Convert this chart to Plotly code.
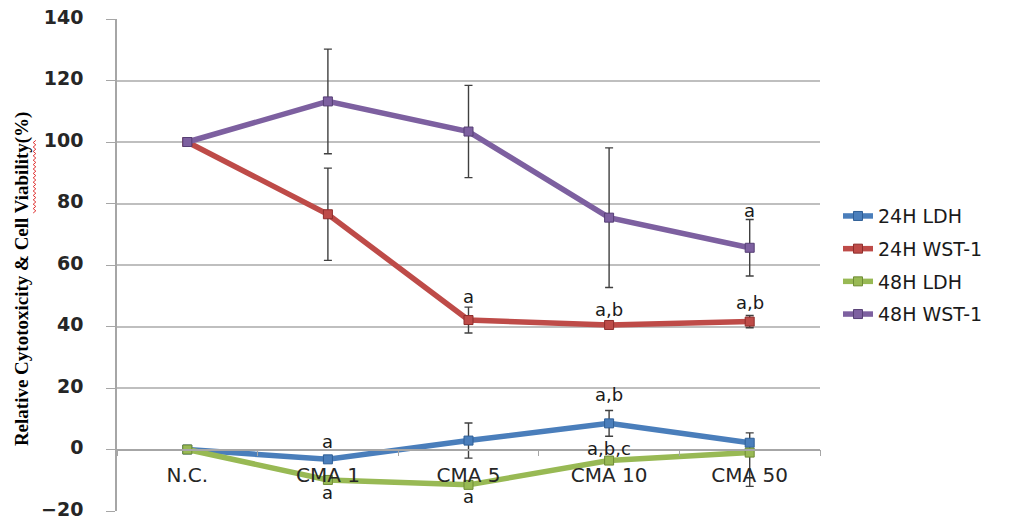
import plotly.graph_objects as go

# Treatment groups along the category axis
categories = ["N.C.", "CMA 1", "CMA 5", "CMA 10", "CMA 50"]

# Mean values (%) per series
ldh_24h = [0, -3.2, 2.9, 8.5, 2.2]
wst_24h = [100, 76.5, 42.1, 40.5, 41.6]
ldh_48h = [0, -9.9, -11.5, -3.6, -1.0]
wst_48h = [100, 113.2, 103.4, 75.4, 65.6]

# Error bar half-widths (%)
ldh_24h_err = [0, 1.0, 5.7, 4.2, 3.2]
wst_24h_err = [0, 15.0, 4.2, 1.0, 2.0]
ldh_48h_err_plus = [0, 0, 0, 0, 0]
ldh_48h_err_minus = [0, 0, 0, 0, 11.0]
wst_48h_err = [0, 17.0, 15.0, 22.7, 9.2]

# Significance letters: (series name, category index, text)
sig_labels = [
    ("24H LDH", 1, "a"),
    ("24H LDH", 3, "a,b"),
    ("48H LDH", 1, "a"),
    ("48H LDH", 2, "a"),
    ("48H LDH", 3, "a,b,c"),
    ("24H WST-1", 2, "a"),
    ("24H WST-1", 3, "a,b"),
    ("24H WST-1", 4, "a,b"),
    ("48H WST-1", 4, "a"),
]
# pixel offset of each letter from its point
sig_shift = [18, 29, -13, -12, 12, 24, 15, 19, 37]

series = [
    ("24H LDH", ldh_24h, dict(type="data", array=ldh_24h_err), "#4A7EBB", "#2F5F96"),
    ("24H WST-1", wst_24h, dict(type="data", array=wst_24h_err), "#BE4B48", "#8E2E2C"),
    ("48H LDH", ldh_48h, dict(type="data", symmetric=False, array=ldh_48h_err_plus,
                              arrayminus=ldh_48h_err_minus), "#98B954", "#6F8C35"),
    ("48H WST-1", wst_48h, dict(type="data", array=wst_48h_err), "#7D60A0", "#563F75"),
]

fig = go.Figure()
values_by_name = {}
for name, vals, err, color, edge in series:
    values_by_name[name] = vals
    err = dict(err, color="#404040", thickness=1.4, width=4)
    fig.add_trace(go.Scatter(
        x=categories, y=vals, name=name, legendgroup=name, mode="lines+markers",
        line=dict(color=color, width=5.5),
        marker=dict(symbol="square", size=9, color=color, line=dict(color=edge, width=1)),
        error_y=err,
    ))

for (name, idx, text), shift in zip(sig_labels, sig_shift):
    fig.add_annotation(
        x=categories[idx], y=values_by_name[name][idx], text=text,
        showarrow=False, yshift=shift, yanchor="middle",
        font=dict(family="DejaVu Sans", size=18, color="#1A1A1A"),
    )

# Rotated y-axis title, placed left of the tick labels
fig.add_annotation(
    x=-0.135, y=0.4715, xref="paper", yref="paper",
    text="<b>Relative Cytotoxicity &amp; Cell Viability(%)</b>",
    textangle=-90, showarrow=False, xanchor="center", yanchor="middle",
    font=dict(family="Liberation Serif", size=19, color="#000000"),
)

# Red wavy proofing underline beside "Viability" in the rotated title
PLOT_L, PLOT_W, PLOT_B, PLOT_H = 117, 703, 511, 492
wave_x, wave_top, wave_bot = 34.5, 140, 213
pts = []
py = wave_bot
k = 0
while py >= wave_top:
    px = wave_x + (1.3 if k % 2 else -1.3)
    pts.append(((px - PLOT_L) / PLOT_W, (PLOT_B - py) / PLOT_H))
    py -= 2.2
    k += 1
wave_path = "M " + " L ".join(f"{a:.5f},{b:.5f}" for a, b in pts)
fig.add_shape(type="path", path=wave_path, xref="paper", yref="paper",
              line=dict(color="#E03030", width=1))

fig.update_layout(
    width=1010, height=517,
    margin=dict(l=117, r=190, t=19, b=6, autoexpand=False),
    plot_bgcolor="white", paper_bgcolor="white",
    showlegend=True,
    legend=dict(
        x=1.0256, y=0.638, xanchor="left", yanchor="top",
        font=dict(family="DejaVu Sans", size=19, color="#1A1A1A"),
        tracegroupgap=5, itemwidth=30, bgcolor="rgba(0,0,0,0)",
    ),
    xaxis=dict(
        type="category", range=[-0.5, 4.5], automargin=False,
        anchor="free", position=0.125,
        showline=True, linecolor="#A6A6A6", linewidth=1.5,
        ticks="outside", tickson="boundaries", ticklen=6, tickcolor="#A6A6A6",
        showgrid=False, ticklabelstandoff=8,
        tickfont=dict(family="DejaVu Sans", size=20, color="#262626"),
    ),
    yaxis=dict(
        range=[-20, 140], dtick=20, tick0=0, automargin=False,
        showline=True, linecolor="#A6A6A6", linewidth=1.5,
        ticks="outside", ticklen=9, tickcolor="#A6A6A6",
        showgrid=True, gridcolor="#BFBFBF", gridwidth=1.5,
        zeroline=False, ticksuffix="\u2003", ticklabeloverflow="allow",
        ticklabelshift=-2,
        tickfont=dict(family="DejaVu Sans", size=19, color="#262626", weight="bold"),
    ),
)

fig.write_html("out.html")
